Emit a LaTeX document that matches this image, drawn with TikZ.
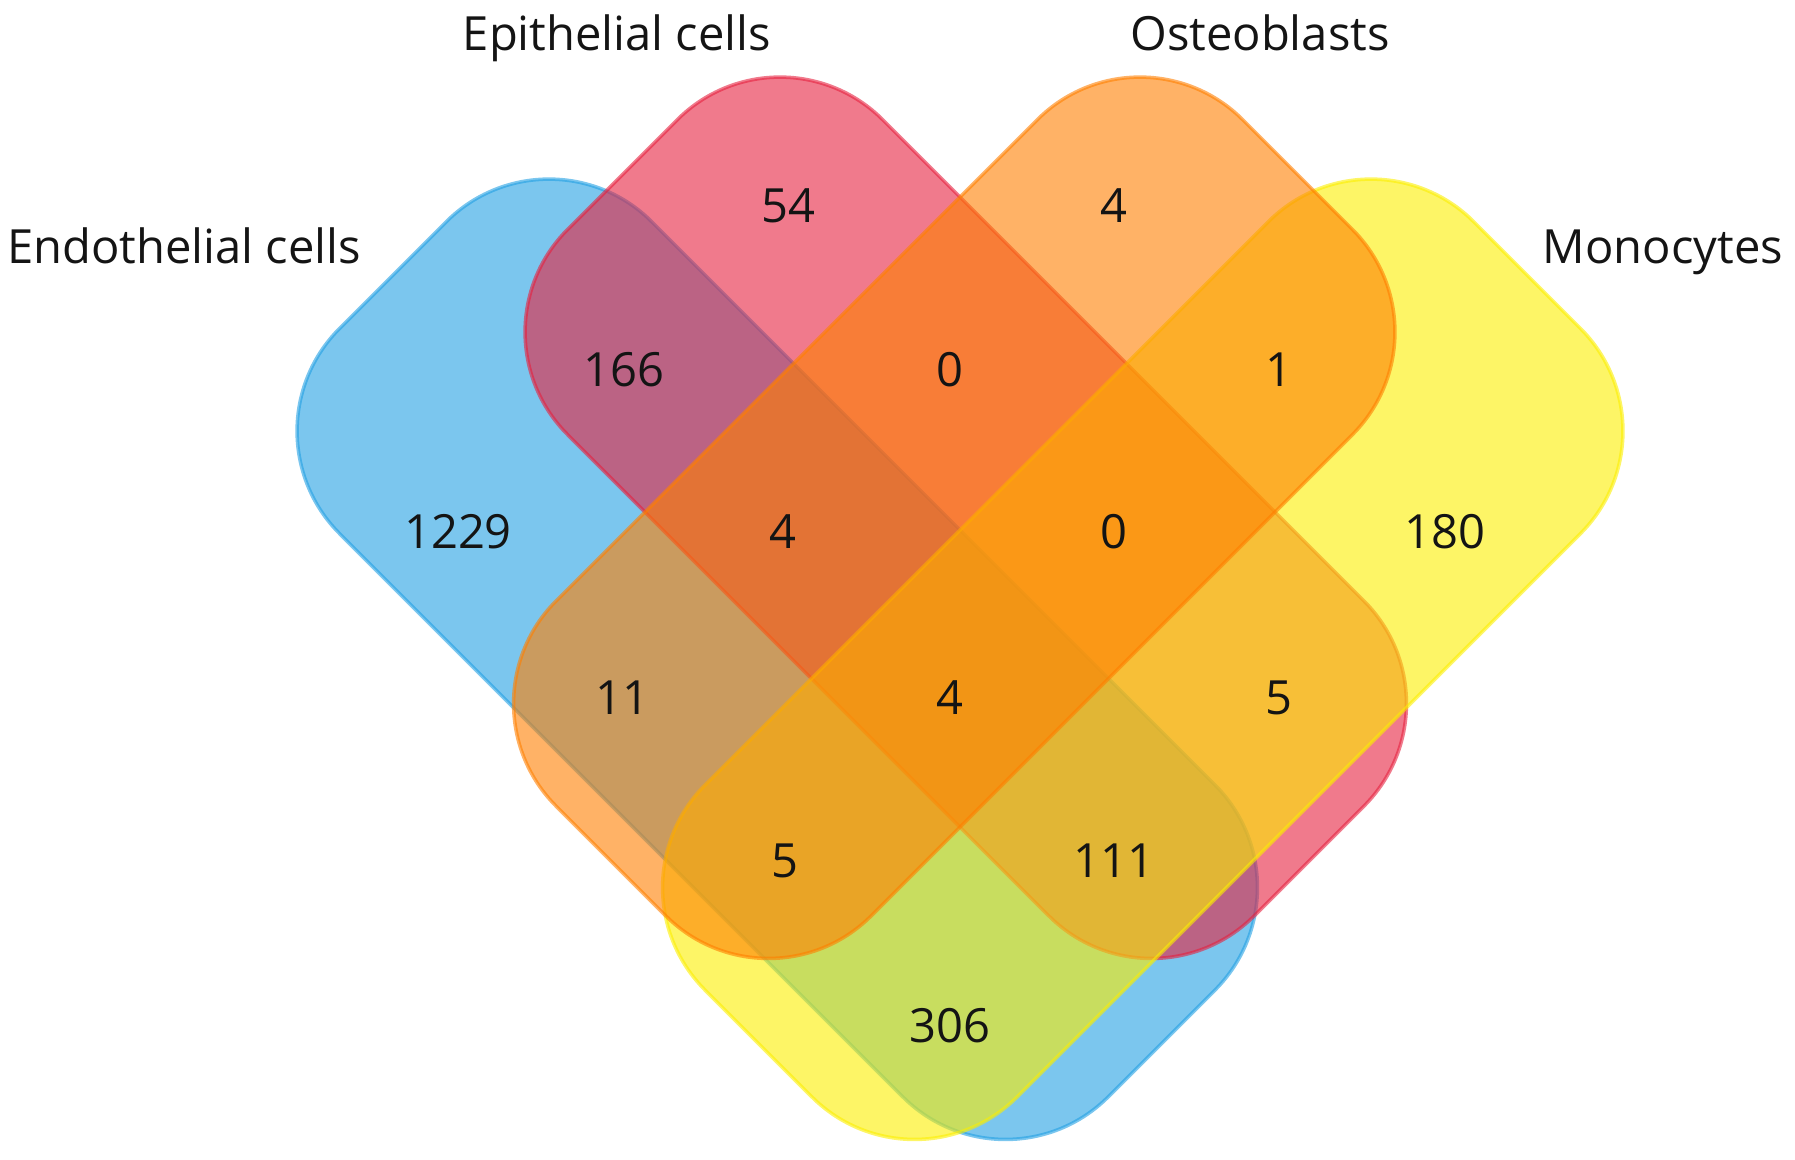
\documentclass[tikz,border=0pt]{standalone}
\usepackage{fontspec}
\setmainfont{Open Sans}
\usepackage{tikz}
\definecolor{endoblue}{RGB}{35,160,227}
\definecolor{epired}{RGB}{230,33,63}
\definecolor{osteoorange}{RGB}{255,127,0}
\definecolor{monoyellow}{RGB}{251,238,0}
\definecolor{labeltext}{RGB}{20,20,20}

\tikzset{
  setbox/.style={line width=1pt, fill opacity=0.6, draw opacity=0.6, rounded corners=1.45cm},
  count/.style={font=\fontsize{13.4}{16}\selectfont, text=labeltext, inner sep=0pt},
  setname/.style={count, anchor=base},
}

\begin{document}
\begin{tikzpicture}[x=0.01cm, y=-0.01cm]
    \useasboundingbox (0,0) rectangle (1795,1159);

    % Four sets, back to front
    \draw[setbox, draw=endoblue, fill=endoblue] (549,119) -- (1317.5,887.5) -- (1005.5,1199.5) -- (237,431) -- cycle;
    \draw[setbox, draw=epired, fill=epired] (780,17) -- (1466.5,703.5) -- (1151.5,1018.5) -- (465,332) -- cycle;
    \draw[setbox, draw=monoyellow, fill=monoyellow] (1371,119) -- (1683,431) -- (914.5,1199.5) -- (602.5,887.5) -- cycle;
    \draw[setbox, draw=osteoorange, fill=osteoorange] (1140,17) -- (1455,332) -- (768.5,1018.5) -- (453.5,703.5) -- cycle;

    % Set names
    \node[setname] (endo) at (184,263) {Endothelial cells};
    \node[setname] (epi) at (617,50) {Epithelial cells};
    \node[setname] (osteo) at (1260,50) {Osteoblasts};
    \node[setname] (mono) at (1663,263) {Monocytes};

    % Counts
    \node[count] (cEpi) at (788,206) {54};
    \node[count] (cOst) at (1114,206) {4};
    \node[count] (cEndEpi) at (624,370) {166};
    \node[count] (cEpiOst) at (950,370) {0};
    \node[count] (cOstMon) at (1279,370) {1};
    \node[count] (cEnd) at (458,532) {1229};
    \node[count] (cEndEpiOst) at (783,532) {4};
    \node[count] (cEpiOstMon) at (1114,532) {0};
    \node[count] (cMon) at (1445,532) {180};
    \node[count] (cEndOst) at (622,698) {11};
    \node[count] (cAll) at (950,698) {4};
    \node[count] (cEpiMon) at (1279,698) {5};
    \node[count] (cEndOstMon) at (785,861) {5};
    \node[count] (cEndEpiMon) at (1114,861) {111};
    \node[count] (cEndMon) at (950,1026) {306};
\end{tikzpicture}
\end{document}
